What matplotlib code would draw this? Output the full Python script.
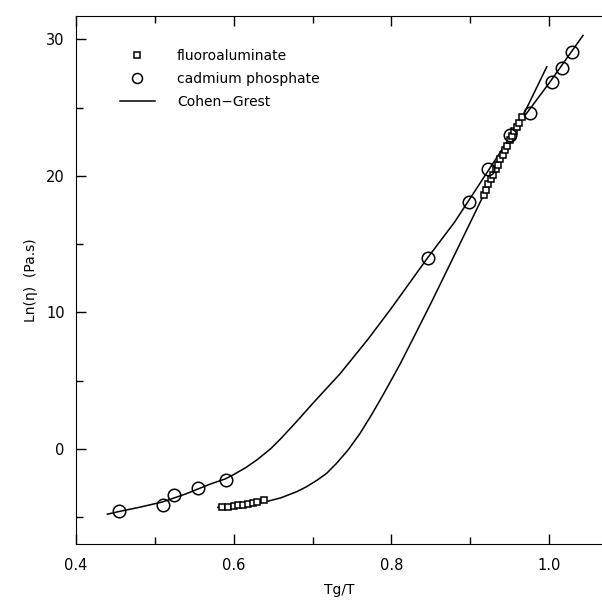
import numpy as np
import matplotlib
matplotlib.use('Agg')
import matplotlib.pyplot as plt
from matplotlib.ticker import MultipleLocator

# fluoroaluminate (squares)
fa_x = [0.585, 0.593, 0.600, 0.606, 0.612, 0.618, 0.624, 0.630, 0.638,
        0.917, 0.920, 0.923, 0.926, 0.929, 0.932, 0.935, 0.938, 0.941,
        0.944, 0.947, 0.950, 0.953, 0.956, 0.959, 0.962, 0.966]
fa_y = [-4.30, -4.25, -4.20, -4.15, -4.10, -4.02, -3.95, -3.88, -3.78,
        18.6, 19.0, 19.4, 19.8, 20.1, 20.5, 20.8, 21.2, 21.5,
        21.9, 22.2, 22.6, 22.9, 23.3, 23.6, 23.9, 24.3]

# cadmium phosphate (circles)
cp_x = [0.455, 0.510, 0.525, 0.555, 0.590, 0.846, 0.899, 0.923, 0.951,
        0.976, 1.004, 1.016, 1.029]
cp_y = [-4.6, -4.1, -3.4, -2.9, -2.3, 14.0, 18.1, 20.5, 23.0,
        24.6, 26.9, 27.9, 29.1]

# Cohen-Grest fits
cg_cp_x = [0.440, 0.455, 0.480, 0.510, 0.540, 0.570, 0.590, 0.600, 0.615,
           0.630, 0.647, 0.660, 0.680, 0.700, 0.735, 0.770, 0.800, 0.846,
           0.880, 0.923, 0.960, 1.000, 1.043]
cg_cp_y = [-4.8, -4.6, -4.3, -3.9, -3.3, -2.6, -2.2, -1.9, -1.4,
           -0.8, 0.0, 0.75, 2.0, 3.3, 5.5, 8.0, 10.3, 14.0,
           16.6, 20.4, 23.7, 26.8, 30.3]
cg_fa_x = [0.580, 0.600, 0.620, 0.640, 0.660, 0.680, 0.692, 0.706, 0.718,
           0.730, 0.745, 0.760, 0.775, 0.790, 0.811, 0.833, 0.853, 0.880,
           0.917, 0.950, 0.997]
cg_fa_y = [-4.3, -4.2, -4.1, -3.9, -3.6, -3.15, -2.8, -2.3, -1.8,
           -1.1, -0.1, 1.1, 2.5, 4.0, 6.2, 8.7, 11.0, 14.2,
           18.6, 22.4, 28.0]

fig = plt.figure(figsize=(6.02, 6.02), dpi=100)
ax = fig.add_axes([0.126, 0.096, 0.874, 0.877])

ax.plot(cg_cp_x, cg_cp_y, '-', color='black', lw=1.1, label='Cohen\u2212Grest')
ax.plot(cg_fa_x, cg_fa_y, '-', color='black', lw=1.1)
ax.plot(fa_x, fa_y, 's', ms=5, mfc='white', mec='black', mew=1.1,
        ls='none', label='fluoroaluminate')
ax.plot(cp_x, cp_y, 'o', ms=9, mfc='none', mec='black', mew=1.1,
        ls='none', label='cadmium phosphate')

ax.set_xlim(0.4, 1.067)
ax.set_ylim(-7.0, 31.7)
ax.xaxis.set_minor_locator(MultipleLocator(0.1))
ax.yaxis.set_major_locator(MultipleLocator(10))
ax.yaxis.set_minor_locator(MultipleLocator(5))
ax.set_xticks([0.4, 0.6, 0.8, 1.0])
ax.set_xticklabels(['0.4', '0.6', '0.8', '1.0'])
ax.tick_params(which='both', direction='in', top=True, right=False,
               labelsize=10.5, width=1)
ax.tick_params(axis='x', which='major', pad=10)
ax.tick_params(axis='y', which='major', pad=8)
ax.tick_params(which='major', length=7)
ax.tick_params(which='minor', length=5)
ax.spines['right'].set_visible(False)

ax.set_xlabel('Tg/T', fontsize=10, labelpad=7)
ax.set_ylabel('Ln(\u03b7)  (Pa.s)', fontsize=10, labelpad=6)

h, l = ax.get_legend_handles_labels()
order = [1, 2, 0]
leg = ax.legend([h[i] for i in order], [l[i] for i in order], loc='upper left',
                bbox_to_anchor=(0.06, 0.962), frameon=False, fontsize=10,
                handlelength=2.5, handletextpad=1.6, labelspacing=0.65,
                markerscale=0.8)

fig.savefig('out.png', dpi=100)
